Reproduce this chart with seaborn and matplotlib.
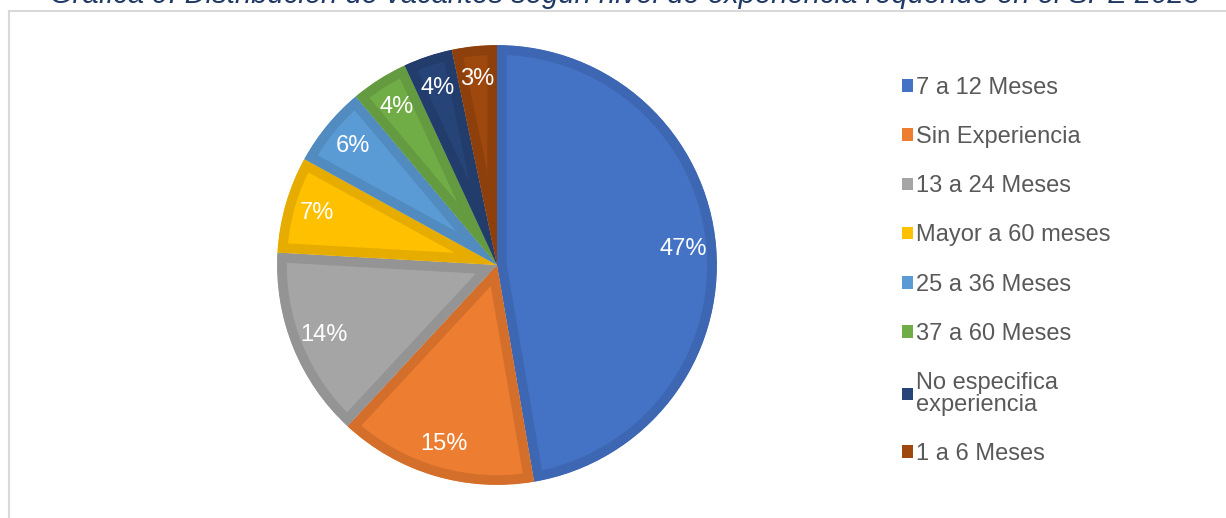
import matplotlib
matplotlib.use("Agg")
import matplotlib.pyplot as plt
import seaborn as sns
from matplotlib.patches import Patch, Rectangle

categories = ["7 a 12 Meses", "Sin Experiencia", "13 a 24 Meses", "Mayor a 60 meses",
              "25 a 36 Meses", "37 a 60 Meses", "No especifica\nexperiencia", "1 a 6 Meses"]
values = [47.3, 14.6, 14.0, 7.1, 5.9, 4.2, 3.6, 3.3]
fill_colors = ["#4472C4", "#ED7D31", "#A5A5A5", "#FFC000", "#5B9BD5", "#70AD47", "#264478", "#9E480E"]
edge_colors = ["#3D67B3", "#D46F2B", "#949494", "#E6AC00", "#518BC0", "#659B40", "#223D6C", "#8E400C"]
title = "Gráfica 9. Distribución de vacantes según nivel de experiencia requerido en el SPE 2023"

sns.set_theme(style="white")
plt.rcParams["font.family"] = ["Liberation Sans", "DejaVu Sans"]

W, H = 1226, 518
fig = plt.figure(figsize=(W / 100, H / 100), dpi=100)
fig.patch.set_facecolor("white")

# chart frame (partially cropped)
fig.patches.append(Rectangle((8.5 / W, -0.2), 1.2, 1.2 - 11 / H, transform=fig.transFigure,
                             fill=False, edgecolor="#D9D9D9", linewidth=1.5, zorder=0))

fig.text(625 / W, 1 - 3 / H, title, ha="center", va="baseline", fontsize=21,
         style="italic", color="#1F3864")

cx, cy, r = 497, 265, 221
ax = fig.add_axes([(cx - r) / W, (H - cy - r) / H, 2 * r / W, 2 * r / H])
wedges, texts, autotexts = ax.pie(values, colors=fill_colors, startangle=90, counterclock=False,
                                  autopct="%1.0f%%", pctdistance=0.85,
                                  textprops=dict(color="white", fontsize=17))
for w, ec in zip(wedges, edge_colors):
    w.set_edgecolor(ec)
    w.set_linewidth(14)
    w.set_joinstyle("round")
    w.set_clip_on(True)
    w.set_clip_path(w)
ax.set_xlim(-1.005, 1.005)
ax.set_ylim(-1.005, 1.005)
ax.set_aspect("equal")
ax.axis("off")

handles = [Patch(facecolor=c, edgecolor="none") for c in fill_colors]
leg = fig.legend(handles, categories, loc="upper left", bbox_to_anchor=(902 / W, 1 - 77 / H),
                 frameon=False, fontsize=17, labelspacing=1.15, handlelength=0.45,
                 handleheight=0.45, handletextpad=0.15, borderpad=0, borderaxespad=0,
                 labelcolor="#595959")
for t in leg.get_texts():
    t.set_linespacing(1.0)

fig.savefig("out.png", dpi=100)
